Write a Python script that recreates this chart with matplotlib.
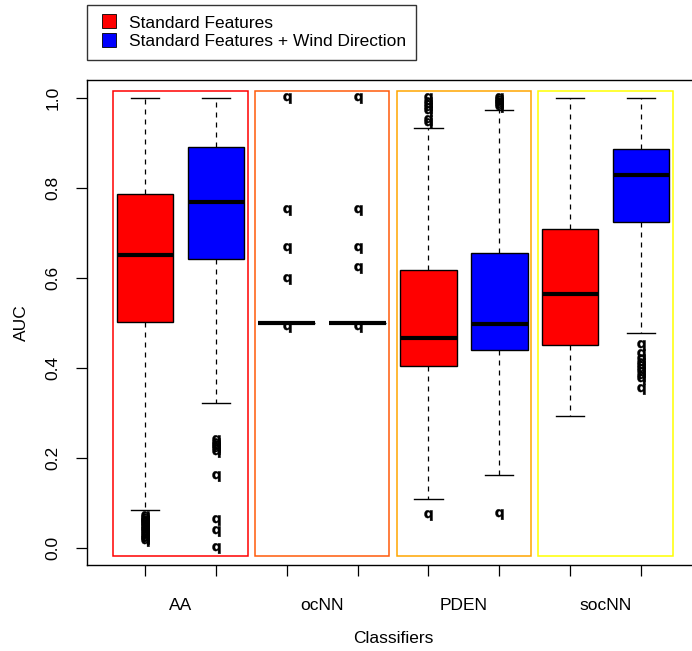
import numpy as np
import matplotlib
matplotlib.use("Agg")
import matplotlib.pyplot as plt
from matplotlib.lines import Line2D
from matplotlib.patches import Rectangle

plt.rcParams['font.family'] = ['Liberation Sans', 'DejaVu Sans']

classifiers = ["AA", "ocNN", "PDEN", "socNN"]
series = ["Standard Features", "Standard Features + Wind Direction"]
fill_colors = ["#FF0000", "#0000FF"]
group_colors = ["#FF0000", "#FF5A0A", "#FFA500", "#FFFF00"]

# box stats per box, order: AA std, AA wind, ocNN std, ocNN wind, PDEN std, PDEN wind, socNN std, socNN wind
whislo = [0.085, 0.322, 0.50, 0.50, 0.109, 0.162, 0.293, 0.478]
q1 = [0.503, 0.643, 0.50, 0.50, 0.404, 0.440, 0.451, 0.724]
med = [0.651, 0.768, 0.50, 0.50, 0.467, 0.497, 0.564, 0.829]
q3 = [0.787, 0.891, 0.50, 0.50, 0.618, 0.655, 0.709, 0.887]
whishi = [1.00, 1.00, 0.50, 0.50, 0.934, 0.973, 1.00, 1.00]
fliers = [
    [0.070, 0.067, 0.063, 0.060, 0.057, 0.053, 0.050, 0.046, 0.043, 0.039,
     0.035, 0.031, 0.027, 0.023, 0.019, 0.016],
    [0.240, 0.234, 0.229, 0.224, 0.219, 0.214, 0.160, 0.062, 0.038, 0.000],
    [1.00, 0.750, 0.667, 0.598, 0.492],
    [1.00, 0.750, 0.667, 0.623, 0.492],
    [1.00, 0.992, 0.985, 0.978, 0.970, 0.952, 0.944, 0.073],
    [1.00, 0.996, 0.992, 0.988, 0.984, 0.980, 0.075],
    [],
    [0.451, 0.430, 0.420, 0.412, 0.405, 0.398, 0.390, 0.383, 0.375, 0.353],
]

stats = []
for i in range(8):
    stats.append(dict(whislo=whislo[i], q1=q1[i], med=med[i], q3=q3[i],
                      whishi=whishi[i], fliers=fliers[i]))

positions = np.arange(1, 9)

fig = plt.figure(figsize=(6.92, 6.51), dpi=100)
ax = fig.add_axes([87 / 692, 86 / 651, 612 / 692, 485 / 651])

# group frames
for g, c in enumerate(group_colors):
    center = 2 * g + 1.5
    ax.add_patch(Rectangle((center - 0.95, -0.018), 1.9, 1.034, fill=False,
                           edgecolor=c, lw=1.1, zorder=1))

bp = ax.bxp(stats, positions=positions, widths=0.8, capwidths=0.4,
            patch_artist=True, manage_ticks=False,
            boxprops=dict(edgecolor="black", lw=1.0),
            whiskerprops=dict(color="black", lw=0.9, linestyle=(0, (4, 4))),
            capprops=dict(color="black", lw=1.0),
            medianprops=dict(color="black", lw=3.0, solid_capstyle="butt"),
            flierprops=dict(marker=r"$\mathbf{q}$", markersize=7.5,
                            markerfacecolor="black", markeredgecolor="black",
                            markeredgewidth=0.3, linestyle="none"))
for i, box in enumerate(bp["boxes"]):
    box.set_facecolor(fill_colors[i % 2])

ax.set_xlim(0.18, 8.82)
ax.set_ylim(-0.038, 1.04)

ax.set_xticks(positions)
ax.set_xticklabels([])
ax.set_xticks([1.5, 3.5, 5.5, 7.5], minor=True)
ax.set_xticklabels(classifiers, minor=True)
ax.tick_params(axis="x", which="major", length=8, width=0.9)
ax.tick_params(axis="x", which="minor", length=0, pad=24, labelsize=12.5)

ax.set_yticks([0.0, 0.2, 0.4, 0.6, 0.8, 1.0])
ax.set_yticklabels(["0.0", "0.2", "0.4", "0.6", "0.8", "1.0"], rotation=90,
                   va="center")
ax.tick_params(axis="y", length=8, width=0.9, pad=11, labelsize=12.5)

for s in ax.spines.values():
    s.set_linewidth(1.0)

ax.set_xlabel("Classifiers", fontsize=12.5, labelpad=13)
ax.set_ylabel("AUC", fontsize=12.5, labelpad=12)

handles = [Line2D([], [], marker="s", linestyle="none", markersize=10,
                  markerfacecolor=c, markeredgecolor="black",
                  markeredgewidth=0.6) for c in fill_colors]
leg = fig.legend(handles, series, loc="upper left",
                 bbox_to_anchor=(87 / 692, 1 - 5 / 651), fontsize=12.5,
                 frameon=True, fancybox=False, borderaxespad=0,
                 handletextpad=0.5, labelspacing=0.2, borderpad=0.6,
                 handlelength=1.3)
leg.get_frame().set_edgecolor("black")
leg.get_frame().set_linewidth(1.0)

fig.savefig("out.png", dpi=100)
